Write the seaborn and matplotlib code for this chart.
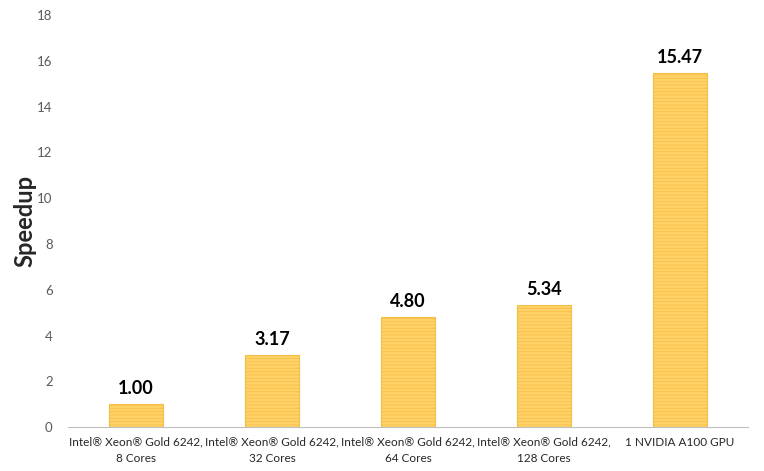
import matplotlib
matplotlib.use('Agg')
import matplotlib.pyplot as plt
import seaborn as sns
import pandas as pd

configs = ['Intel® Xeon® Gold 6242,\n8 Cores',
           'Intel® Xeon® Gold 6242,\n32 Cores',
           'Intel® Xeon® Gold 6242,\n64 Cores',
           'Intel® Xeon® Gold 6242,\n128 Cores',
           '1 NVIDIA A100 GPU']
speedup = [1.00, 3.17, 4.80, 5.34, 15.47]

df = pd.DataFrame({'config': configs, 'speedup': speedup})

sns.set_style('white')
plt.rcParams['font.family'] = ['Lato', 'DejaVu Sans']
plt.rcParams['hatch.color'] = '#FFE29A'
plt.rcParams['hatch.linewidth'] = 0.5

fig = plt.figure(figsize=(7.64, 4.71), dpi=100)
ax = fig.add_axes([0.089, 0.093, 0.89, 0.875])

sns.barplot(data=df, x='config', y='speedup', color='#FFD166', width=0.4,
            edgecolor='#F4BE45', linewidth=0.8, saturation=1, ax=ax)
for p in ax.patches:
    p.set_hatch('-----')

for p, v in zip(ax.patches, speedup):
    ax.text(p.get_x() + p.get_width() / 2, v + 0.3, f'{v:.2f}',
            ha='center', va='bottom', fontsize=13, fontweight='bold', color='black')

ax.set_ylim(0, 18)
ax.set_yticks(range(0, 19, 2))
ax.set_xlim(-0.5, 4.5)
ax.set_xlabel('')
ax.set_ylabel('Speedup', fontsize=17, fontweight='bold')
ax.yaxis.set_label_coords(-0.047, 0.5)
ax.tick_params(axis='y', labelsize=9.5, labelcolor='#595959', length=0, pad=11)
ax.tick_params(axis='x', labelsize=8.5, labelcolor='#262626', length=0, pad=7)
for t in ax.get_xticklabels():
    t.set_linespacing(1.6)

sns.despine(ax=ax, left=True)
ax.spines['bottom'].set_color('#BFBFBF')

fig.savefig('out.png', dpi=100)
